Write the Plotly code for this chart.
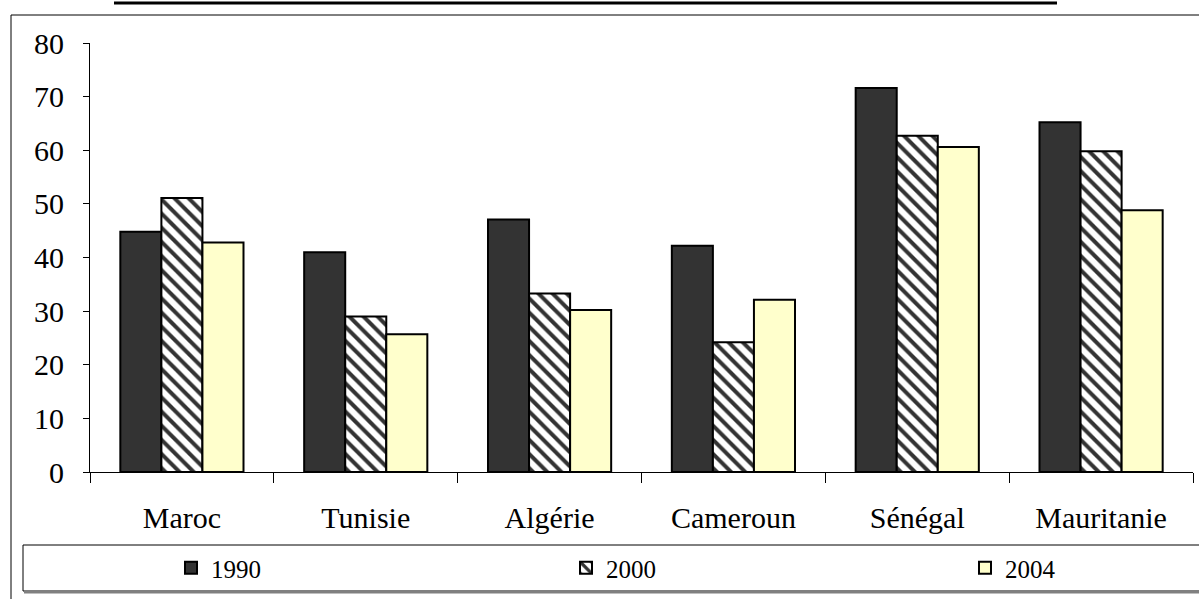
import plotly.graph_objects as go

categories = ["Maroc", "Tunisie", "Algérie", "Cameroun", "Sénégal", "Mauritanie"]
series_names = ["1990", "2000", "2004"]
v1990 = [44.8, 41.0, 47.1, 42.2, 71.6, 65.2]
v2000 = [51.1, 29.0, 33.3, 24.2, 62.7, 59.8]
v2004 = [42.8, 25.7, 30.2, 32.1, 60.6, 48.8]
y_ticks = [0, 10, 20, 30, 40, 50, 60, 70, 80]

W, H = 1199, 599
ML, MR, MT, MB = 90, 6, 43, 127
PW, PH = W - ML - MR, H - MT - MB


def px(x):
    return (x - ML) / PW


def py(y):
    return (H - MB - y) / PH


FONT = "Liberation Serif, Times New Roman, serif"

fig = go.Figure()
fig.add_trace(go.Bar(
    x=categories, y=v1990, name=series_names[0], legend="legend",
    marker=dict(color="#333333", line=dict(color="black", width=2)),
))
fig.add_trace(go.Bar(
    x=categories, y=v2000, name=series_names[1], legend="legend2",
    marker=dict(color="white", line=dict(color="black", width=2),
                pattern=dict(shape="\\", fgcolor="#333333", bgcolor="white",
                             size=10, solidity=0.4, fillmode="replace")),
))
fig.add_trace(go.Bar(
    x=categories, y=v2004, name=series_names[2], legend="legend3",
    marker=dict(color="#FFFFCC", line=dict(color="black", width=2)),
))

shapes = [
    # outer frame
    dict(type="rect", xref="paper", yref="paper", x0=px(11), x1=px(1215), y0=py(15), y1=py(615),
         line=dict(color="black", width=1), layer="below"),
    # title underline (cropped title)
    dict(type="line", xref="paper", yref="paper", x0=px(114), x1=px(1057), y0=py(3), y1=py(3),
         line=dict(color="black", width=3)),
    # legend shadow
    dict(type="line", xref="paper", yref="paper", x0=px(24), x1=px(1215), y0=py(592), y1=py(592),
         line=dict(color="#808080", width=3)),
    # legend box
    dict(type="rect", xref="paper", yref="paper", x0=px(23), x1=px(1215), y0=py(545), y1=py(591),
         line=dict(color="black", width=1), fillcolor="white", layer="below"),
]


def leg(xpix):
    return dict(orientation="h", x=px(xpix), y=py(568), xanchor="left", yanchor="middle",
                font=dict(family=FONT, size=25, color="black"),
                bgcolor="rgba(0,0,0,0)", borderwidth=0)


fig.update_layout(
    template="none",
    width=W, height=H,
    margin=dict(l=ML, r=MR, t=MT, b=MB, autoexpand=False),
    paper_bgcolor="white", plot_bgcolor="white",
    barmode="group", bargap=0.33, bargroupgap=0,
    font=dict(family=FONT, color="black", size=25),
    showlegend=True,
    legend=leg(171), legend2=leg(566), legend3=leg(965),
    shapes=shapes,
    xaxis=dict(showline=True, linecolor="black", linewidth=1, ticks="outside", ticklen=10,
               tickcolor="black", tickson="boundaries", showgrid=False, zeroline=False,
               tickfont=dict(family=FONT, size=30, color="black"), ticklabelstandoff=19),
    yaxis=dict(range=[0, 80], tickvals=y_ticks, showline=True, linecolor="black", linewidth=1,
               ticks="outside", ticklen=6, tickcolor="black", showgrid=False, zeroline=False,
               tickfont=dict(family=FONT, size=30, color="black"), ticklabelstandoff=13),
)

fig.write_html("out.html", config={"displayModeBar": False},
               post_script="document.body.style.margin='0';")
